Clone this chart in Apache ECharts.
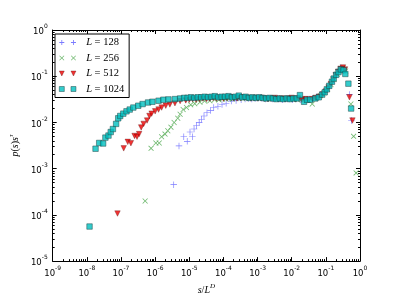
<!DOCTYPE html>
<html><head><meta charset="utf-8">
<script src="https://cdn.jsdelivr.net/npm/echarts@6/dist/echarts.min.js"></script>
<style>html,body{margin:0;padding:0;background:#fff}#c{width:400px;height:300px}</style>
</head><body><div id="c"></div>
<script>
// ---- data ----
const seriesNames = ['L = 128', 'L = 256', 'L = 512', 'L = 1024'];

const x128 = [3.5e-6, 5.0e-6, 6.9e-6, 8.7e-6, 1.05e-5, 1.23e-5, 1.38e-5, 1.62e-5, 1.95e-5, 2.3e-5, 2.7e-5, 3.3e-5, 4.2e-5, 5.2e-5, 6.9e-5, 9.1e-5, 1.2e-4, 1.7e-4, 2.35e-4, 3.3e-4,
  4.3e-4, 5.4e-4, 6.8e-4, 8.5e-4, 1.07e-3, 1.35e-3, 1.7e-3, 2.1e-3, 2.7e-3, 3.4e-3, 4.3e-3, 5.4e-3, 6.8e-3, 8.5e-3, 1.07e-2, 1.35e-2,
  1.78e-2, 2.4e-2, 3.2e-2, 4.2e-2, 5.5e-2, 7.2e-2, 9.3e-2, 0.117, 0.148, 0.182, 0.224, 0.275, 0.339, 0.49, 0.56];
const y128 = [4.5e-4, 3.1e-3, 4.9e-3, 3.9e-3, 6.2e-3, 4.9e-3, 7.2e-3, 8.5e-3, 1.0e-2, 1.17e-2, 1.38e-2, 1.62e-2, 1.82e-2, 2.1e-2, 2.24e-2, 2.45e-2, 2.6e-2, 2.9e-2, 3.0e-2, 3.1e-2,
  0.032, 0.033, 0.032, 0.033, 0.034, 0.033, 0.032, 0.033, 0.032, 0.033, 0.032, 0.031, 0.032, 0.032, 0.031, 0.032,
  0.031, 0.031, 0.032, 0.033, 0.036, 0.040, 0.046, 0.056, 0.072, 0.095, 0.12, 0.15, 0.14, 0.040, 0.011];

const x256 = [5.1e-7, 7.6e-7, 1.05e-6, 1.32e-6, 1.55e-6, 1.95e-6, 2.35e-6, 2.9e-6, 3.6e-6, 4.6e-6, 5.4e-6, 6.6e-6, 8.3e-6, 1.1e-5, 1.45e-5, 2.05e-5, 2.8e-5, 4.0e-5, 5.5e-5,
  7.4e-5, 9.3e-5, 1.17e-4, 1.48e-4, 1.86e-4, 2.34e-4, 2.95e-4, 3.7e-4, 4.7e-4, 5.9e-4, 7.4e-4, 9.3e-4, 1.17e-3, 1.48e-3, 1.86e-3, 2.34e-3, 2.95e-3, 3.7e-3, 4.7e-3, 5.9e-3, 7.4e-3, 9.3e-3, 1.17e-2, 1.48e-2,
  2.0e-2, 2.8e-2, 4.0e-2, 5.2e-2, 6.9e-2, 8.9e-2, 0.112, 0.141, 0.174, 0.214, 0.263, 0.316, 0.38, 0.54, 0.65, 0.77];
const y256 = [2.0e-4, 2.75e-3, 3.6e-3, 3.6e-3, 4.9e-3, 5.6e-3, 6.6e-3, 7.9e-3, 1.0e-2, 1.23e-2, 1.5e-2, 1.9e-2, 2.1e-2, 2.4e-2, 2.55e-2, 2.75e-2, 2.9e-2, 2.95e-2, 3.1e-2,
  0.031, 0.032, 0.032, 0.033, 0.032, 0.033, 0.034, 0.033, 0.034, 0.033, 0.034, 0.033, 0.034, 0.033, 0.032, 0.033, 0.034, 0.033, 0.032, 0.033, 0.032, 0.033, 0.032, 0.031,
  0.032, 0.031, 0.025, 0.034, 0.038, 0.044, 0.052, 0.066, 0.085, 0.11, 0.135, 0.15, 0.13, 0.025, 0.005, 8.1e-4];

const x512 = [7.9e-8, 1.2e-7, 1.58e-7, 1.95e-7, 2.5e-7, 2.95e-7, 3.4e-7, 3.9e-7, 4.6e-7, 5.8e-7, 6.8e-7, 7.9e-7, 1e-6, 1.26e-6, 1.55e-6, 2.05e-6, 2.7e-6, 3.8e-6, 5.4e-6,
  7.9e-6, 1e-5, 1.26e-5, 1.58e-5, 2e-5, 2.5e-5, 3.2e-5, 4e-5, 5e-5, 6.3e-5, 7.9e-5, 1e-4, 1.26e-4, 1.58e-4, 2e-4, 2.5e-4, 3.2e-4, 4e-4, 5e-4, 6.3e-4, 7.9e-4, 1e-3, 1.26e-3, 1.58e-3, 2e-3, 2.5e-3, 3.2e-3, 4e-3, 5e-3, 6.3e-3, 7.9e-3, 1e-2, 1.26e-2, 1.58e-2,
  2.0e-2, 2.5e-2, 3.2e-2, 4e-2, 5e-2, 6.3e-2, 7.9e-2, 0.1, 0.12, 0.141, 0.166, 0.195, 0.229, 0.269, 0.316, 0.363, 0.49, 0.60];
const y512 = [1.07e-4, 2.75e-3, 3.8e-3, 3.55e-3, 5.1e-3, 4.9e-3, 5.6e-3, 7.8e-3, 9.3e-3, 1.1e-2, 1.38e-2, 1.55e-2, 1.74e-2, 1.9e-2, 2.1e-2, 2.3e-2, 2.45e-2, 2.6e-2, 2.9e-2,
  0.030, 0.031, 0.032, 0.031, 0.032, 0.033, 0.032, 0.033, 0.034, 0.033, 0.034, 0.033, 0.034, 0.035, 0.034, 0.033, 0.034, 0.035, 0.034, 0.033, 0.034, 0.033, 0.034, 0.033, 0.032, 0.033, 0.034, 0.032, 0.033, 0.032, 0.033, 0.034, 0.032, 0.033,
  0.031, 0.032, 0.031, 0.032, 0.034, 0.036, 0.040, 0.047, 0.057, 0.068, 0.085, 0.105, 0.125, 0.145, 0.155, 0.14, 0.035, 0.011];

const x1024 = [1.2e-8, 1.8e-8, 2.3e-8, 3.0e-8, 3.5e-8, 4.3e-8, 5.0e-8, 5.8e-8, 7.2e-8, 8.3e-8, 9.5e-8, 1.17e-7, 1.45e-7, 1.8e-7, 2.3e-7, 3.2e-7, 4.3e-7, 6.2e-7, 8.3e-7, 1.26e-6, 1.74e-6, 2.45e-6, 3.8e-6, 5.4e-6,
  7.1e-6, 8.9e-6, 1.12e-5, 1.41e-5, 1.78e-5, 2.24e-5, 2.82e-5, 3.55e-5, 4.47e-5, 5.6e-5, 7.1e-5, 8.9e-5, 1.12e-4, 1.41e-4, 1.78e-4, 2.24e-4, 2.82e-4, 3.55e-4, 4.47e-4, 5.6e-4, 7.1e-4, 8.9e-4, 1.12e-3, 1.41e-3, 1.78e-3, 2.24e-3, 2.82e-3, 3.55e-3, 4.47e-3, 5.6e-3, 7.1e-3, 8.9e-3, 1.12e-2, 1.41e-2,
  1.74e-2, 2.3e-2, 2.8e-2, 3.5e-2, 4.9e-2, 6.2e-2, 7.8e-2, 9.3e-2, 0.107, 0.126, 0.151, 0.17, 0.2, 0.234, 0.275, 0.331, 0.372, 0.457, 0.55];
const y1024 = [5.6e-5, 2.7e-3, 3.6e-3, 3.5e-3, 4.7e-3, 5.2e-3, 6.2e-3, 7.2e-3, 9.3e-3, 1.23e-2, 1.38e-2, 1.55e-2, 1.74e-2, 1.9e-2, 2.1e-2, 2.3e-2, 2.5e-2, 2.7e-2, 2.8e-2, 2.95e-2, 3.1e-2, 3.15e-2, 3.2e-2, 3.3e-2,
  0.034, 0.034, 0.035, 0.034, 0.035, 0.035, 0.036, 0.035, 0.036, 0.037, 0.035, 0.036, 0.036, 0.037, 0.035, 0.036, 0.038, 0.035, 0.036, 0.034, 0.035, 0.034, 0.035, 0.034, 0.033, 0.034, 0.033, 0.032, 0.033, 0.032, 0.033, 0.032, 0.033, 0.033,
  0.039, 0.028, 0.031, 0.031, 0.033, 0.035, 0.040, 0.045, 0.052, 0.062, 0.076, 0.089, 0.107, 0.123, 0.141, 0.135, 0.112, 0.069, 0.020];

const xTickExp = [-9, -8, -7, -6, -5, -4, -3, -2, -1, 0];
const yTickExp = [-5, -4, -3, -2, -1, 0];

// ---- chart ----
const zip = (xs, ys) => xs.map((v, i) => [v, ys[i]]);
const sup = {b: {fontSize: 8.5, fontFamily: 'DejaVu Sans', color: '#000', lineHeight: 13, verticalAlign: 'bottom'},
             s: {fontSize: 6, fontFamily: 'DejaVu Sans', color: '#000', lineHeight: 13, verticalAlign: 'top'}};
function expLabel(v) {
  const e = Math.round(Math.log10(v));
  return '{b|10}{s|' + e + '}';
}
const plusPath = 'path://M0,4.5h10v1h-10zM4.5,0h1v10h-1z';
const xPath = 'path://M1,0L5,4L9,0L10,1L6,5L10,9L9,10L5,6L1,10L0,9L4,5L0,1Z';
const triPath = 'path://M0,0L10,0L5,10Z';

const axisCommon = {
  type: 'log', logBase: 10,
  axisLine: {show: true, lineStyle: {color: '#000', width: 1}},
  axisTick: {show: true, inside: true, length: 4, lineStyle: {color: '#000'}},
  minorTick: {show: true, splitNumber: 9, length: 2, lineStyle: {color: '#000'}},
  splitLine: {show: false}
};
const mathRich = {
  i: {fontFamily: 'Liberation Serif', fontStyle: 'italic', fontSize: 10, color: '#000', lineHeight: 12, verticalAlign: 'bottom'},
  r: {fontFamily: 'Liberation Serif', fontSize: 10, color: '#000', lineHeight: 12, verticalAlign: 'bottom'},
  s: {fontFamily: 'Liberation Serif', fontStyle: 'italic', fontSize: 7, color: '#000', lineHeight: 12, verticalAlign: 'top'}
};

const chart = echarts.init(document.getElementById('c'), null, {renderer: 'canvas'});
chart.setOption({
  animation: false,
  grid: {left: 50, right: 40, top: 30, bottom: 32},
  legend: {
    left: 55, top: 34, orient: 'vertical',
    borderColor: '#000', borderWidth: 1, borderRadius: 0,
    padding: [3, 5, 3, 4], itemGap: 4.5, itemWidth: 19, itemHeight: 5,
    data: [
      {name: seriesNames[0], icon: 'path://M0,2.5h6v1h-6zM2.5,0h1v6h-1zM14,2.5h6v1h-6zM16.5,0h1v6h-1z', itemStyle: {borderWidth: 0}},
      {name: seriesNames[1], icon: 'path://M0.5,0L3,2.4L5.5,0L6,0.6L3.6,3L6,5.4L5.5,6L3,3.6L0.5,6L0,5.4L2.4,3L0,0.6ZM14.5,0L17,2.4L19.5,0L20,0.6L17.6,3L20,5.4L19.5,6L17,3.6L14.5,6L14,5.4L16.4,3L14,0.6Z', itemStyle: {borderWidth: 0}},
      {name: seriesNames[2], icon: 'path://M0,0h6l-3,6zM14,0h6l-3,6z', itemStyle: {borderWidth: 0.4}},
      {name: seriesNames[3], icon: 'path://M0,0h6v6h-6zM14,0h6v6h-6z', itemStyle: {borderWidth: 0.6}}
    ],
    formatter: function (n) { return '{i|L}{r| = ' + n.split('= ')[1] + '}'; },
    textStyle: {
      padding: [0, 0, 0, 4],
      rich: {
        i: {fontFamily: 'Liberation Serif', fontStyle: 'italic', fontSize: 10.5, color: '#000', lineHeight: 12},
        r: {fontFamily: 'Liberation Serif', fontSize: 10.5, color: '#000', lineHeight: 12}
      }
    }
  },
  xAxis: [
    Object.assign({}, axisCommon, {
      position: 'bottom', min: 1e-9, max: 1, interval: 1,
      axisLabel: {margin: 4, formatter: expLabel, rich: sup},
      name: '{i|s}{r|/}{i|L}{s|D}', nameLocation: 'middle', nameGap: 18,
      nameTextStyle: {rich: mathRich}
    }),
    Object.assign({}, axisCommon, {
      position: 'top', min: 1e-9, max: 1, interval: 1, axisLabel: {show: false}
    })
  ],
  yAxis: [
    Object.assign({}, axisCommon, {
      position: 'left', min: 1e-5, max: 1, interval: 1,
      axisLabel: {margin: 5, formatter: expLabel, rich: sup},
      name: '{i|p}{r|(}{i|s}{r|)}{i|s}{s|τ}', nameLocation: 'middle', nameGap: 23, nameRotate: 90,
      nameTextStyle: {rich: mathRich}
    }),
    Object.assign({}, axisCommon, {
      position: 'right', min: 1e-5, max: 1, interval: 1, axisLabel: {show: false}
    })
  ],
  series: [
    {name: seriesNames[0], type: 'scatter', data: zip(x128, y128), symbol: plusPath, symbolSize: 6.5,
     itemStyle: {color: '#5a5aff'}},
    {name: seriesNames[1], type: 'scatter', data: zip(x256, y256), symbol: xPath, symbolSize: 5.5,
     itemStyle: {color: '#4aa64a'}},
    {name: seriesNames[2], type: 'scatter', data: zip(x512, y512), symbol: triPath, symbolSize: 5.5,
     itemStyle: {color: '#ee0000', borderColor: '#500', borderWidth: 0.4}},
    {name: seriesNames[3], type: 'scatter', data: zip(x1024, y1024), symbol: 'rect', symbolSize: 5.5,
     itemStyle: {color: '#00bfbf', borderColor: '#1a4040', borderWidth: 0.6}}
  ]
});
</script></body></html>
